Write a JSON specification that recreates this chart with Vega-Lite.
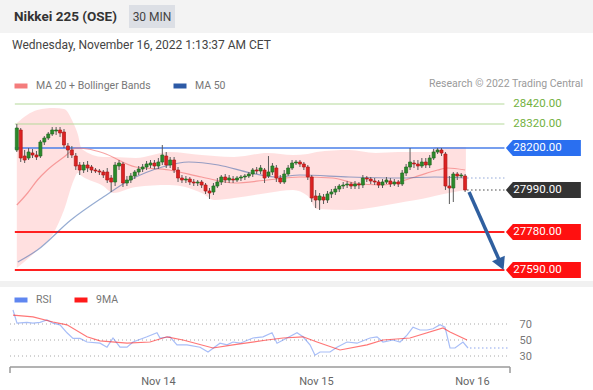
{
  "$schema": "https://vega.github.io/schema/vega-lite/v6.json",
  "padding": 0,
  "background": "#ffffff",
  "spacing": 0,
  "bounds": "flush",
  "resolve": {"scale": {"color": "independent", "x": "independent", "y": "independent"}, "legend": {"color": "independent"}},
  "config": {"font": "Roboto", "view": {"stroke": null}},
  "datasets": {
    "candles": [
      {"i":0,"o":28190,"h":28320,"l":28180,"c":28300},
      {"i":1,"o":28290,"h":28300,"l":28130,"c":28150},
      {"i":2,"o":28160,"h":28190,"l":28125,"c":28140},
      {"i":3,"o":28150,"h":28200,"l":28140,"c":28180},
      {"i":4,"o":28175,"h":28195,"l":28150,"c":28165},
      {"i":5,"o":28165,"h":28185,"l":28140,"c":28155},
      {"i":6,"o":28160,"h":28240,"l":28150,"c":28230},
      {"i":7,"o":28230,"h":28260,"l":28215,"c":28250},
      {"i":8,"o":28250,"h":28280,"l":28240,"c":28270},
      {"i":9,"o":28270,"h":28305,"l":28260,"c":28290},
      {"i":10,"o":28285,"h":28305,"l":28265,"c":28290},
      {"i":11,"o":28290,"h":28305,"l":28255,"c":28275},
      {"i":12,"o":28280,"h":28295,"l":28200,"c":28215},
      {"i":13,"o":28210,"h":28225,"l":28150,"c":28190},
      {"i":14,"o":28190,"h":28210,"l":28150,"c":28165},
      {"i":15,"o":28160,"h":28175,"l":28090,"c":28110},
      {"i":16,"o":28115,"h":28130,"l":28065,"c":28090},
      {"i":17,"o":28090,"h":28130,"l":28075,"c":28115},
      {"i":18,"o":28115,"h":28135,"l":28080,"c":28100},
      {"i":19,"o":28105,"h":28115,"l":28075,"c":28090},
      {"i":20,"o":28090,"h":28100,"l":28075,"c":28085},
      {"i":21,"o":28085,"h":28095,"l":28065,"c":28080},
      {"i":22,"o":28080,"h":28090,"l":28050,"c":28065},
      {"i":23,"o":28080,"h":28100,"l":28025,"c":28040},
      {"i":24,"o":28050,"h":28065,"l":27980,"c":28030},
      {"i":25,"o":28030,"h":28130,"l":28010,"c":28115},
      {"i":26,"o":28110,"h":28140,"l":28090,"c":28125},
      {"i":27,"o":28120,"h":28130,"l":28005,"c":28025},
      {"i":28,"o":28025,"h":28060,"l":28010,"c":28040},
      {"i":29,"o":28040,"h":28075,"l":28025,"c":28060},
      {"i":30,"o":28060,"h":28090,"l":28045,"c":28080},
      {"i":31,"o":28080,"h":28110,"l":28065,"c":28095},
      {"i":32,"o":28095,"h":28120,"l":28080,"c":28105},
      {"i":33,"o":28105,"h":28135,"l":28090,"c":28120},
      {"i":34,"o":28115,"h":28140,"l":28100,"c":28125},
      {"i":35,"o":28125,"h":28140,"l":28095,"c":28110},
      {"i":36,"o":28110,"h":28150,"l":28095,"c":28130},
      {"i":37,"o":28130,"h":28215,"l":28115,"c":28165},
      {"i":38,"o":28160,"h":28180,"l":28100,"c":28115},
      {"i":39,"o":28115,"h":28155,"l":28100,"c":28140},
      {"i":40,"o":28140,"h":28155,"l":28075,"c":28090},
      {"i":41,"o":28090,"h":28105,"l":28030,"c":28050},
      {"i":42,"o":28050,"h":28065,"l":28025,"c":28040},
      {"i":43,"o":28040,"h":28060,"l":28025,"c":28045},
      {"i":44,"o":28045,"h":28055,"l":28015,"c":28030},
      {"i":45,"o":28030,"h":28045,"l":28010,"c":28025},
      {"i":46,"o":28025,"h":28040,"l":28010,"c":28030},
      {"i":47,"o":28030,"h":28040,"l":28000,"c":28015},
      {"i":48,"o":28015,"h":28025,"l":27970,"c":27985},
      {"i":49,"o":27985,"h":28000,"l":27945,"c":27975},
      {"i":50,"o":27980,"h":28025,"l":27965,"c":28010},
      {"i":51,"o":28010,"h":28050,"l":28000,"c":28030},
      {"i":52,"o":28030,"h":28065,"l":28015,"c":28055},
      {"i":53,"o":28055,"h":28070,"l":28025,"c":28040},
      {"i":54,"o":28040,"h":28065,"l":28025,"c":28050},
      {"i":55,"o":28045,"h":28060,"l":28025,"c":28040},
      {"i":56,"o":28040,"h":28060,"l":28030,"c":28050},
      {"i":57,"o":28050,"h":28065,"l":28035,"c":28055},
      {"i":58,"o":28055,"h":28070,"l":28040,"c":28060},
      {"i":59,"o":28060,"h":28080,"l":28050,"c":28070},
      {"i":60,"o":28070,"h":28100,"l":28055,"c":28090},
      {"i":61,"o":28090,"h":28105,"l":28070,"c":28085},
      {"i":62,"o":28085,"h":28115,"l":28070,"c":28100},
      {"i":63,"o":28090,"h":28100,"l":28025,"c":28050},
      {"i":64,"o":28060,"h":28160,"l":28050,"c":28080},
      {"i":65,"o":28080,"h":28125,"l":28065,"c":28110},
      {"i":66,"o":28100,"h":28115,"l":28030,"c":28050},
      {"i":67,"o":28050,"h":28065,"l":28020,"c":28030},
      {"i":68,"o":28030,"h":28090,"l":28020,"c":28070},
      {"i":69,"o":28070,"h":28115,"l":28060,"c":28100},
      {"i":70,"o":28100,"h":28140,"l":28090,"c":28125},
      {"i":71,"o":28125,"h":28140,"l":28115,"c":28130},
      {"i":72,"o":28130,"h":28140,"l":28105,"c":28120},
      {"i":73,"o":28120,"h":28130,"l":28090,"c":28105},
      {"i":74,"o":28105,"h":28115,"l":28040,"c":28055},
      {"i":75,"o":28055,"h":28065,"l":27930,"c":27950},
      {"i":76,"o":27960,"h":27990,"l":27900,"c":27940},
      {"i":77,"o":27940,"h":27975,"l":27890,"c":27960},
      {"i":78,"o":27955,"h":27970,"l":27920,"c":27940},
      {"i":79,"o":27940,"h":27985,"l":27925,"c":27970},
      {"i":80,"o":27970,"h":27995,"l":27950,"c":27980},
      {"i":81,"o":27980,"h":28010,"l":27965,"c":27995},
      {"i":82,"o":27995,"h":28020,"l":27980,"c":28010},
      {"i":83,"o":28010,"h":28030,"l":27995,"c":28015},
      {"i":84,"o":28015,"h":28035,"l":28000,"c":28020},
      {"i":85,"o":28020,"h":28030,"l":27995,"c":28010},
      {"i":86,"o":28010,"h":28035,"l":27995,"c":28020},
      {"i":87,"o":28020,"h":28030,"l":27995,"c":28015},
      {"i":88,"o":28015,"h":28065,"l":28000,"c":28050},
      {"i":89,"o":28050,"h":28060,"l":28030,"c":28045},
      {"i":90,"o":28045,"h":28055,"l":28020,"c":28035},
      {"i":91,"o":28035,"h":28050,"l":28015,"c":28030},
      {"i":92,"o":28030,"h":28040,"l":28000,"c":28015},
      {"i":93,"o":28015,"h":28045,"l":28000,"c":28030},
      {"i":94,"o":28030,"h":28055,"l":28020,"c":28040},
      {"i":95,"o":28035,"h":28050,"l":28005,"c":28020},
      {"i":96,"o":28020,"h":28045,"l":28010,"c":28030},
      {"i":97,"o":28030,"h":28040,"l":28005,"c":28020},
      {"i":98,"o":28020,"h":28090,"l":28010,"c":28075},
      {"i":99,"o":28075,"h":28120,"l":28060,"c":28105},
      {"i":100,"o":28105,"h":28200,"l":28090,"c":28130},
      {"i":101,"o":28125,"h":28140,"l":28100,"c":28120},
      {"i":102,"o":28120,"h":28140,"l":28090,"c":28110},
      {"i":103,"o":28110,"h":28150,"l":28100,"c":28130},
      {"i":104,"o":28130,"h":28150,"l":28100,"c":28115},
      {"i":105,"o":28115,"h":28165,"l":28100,"c":28150},
      {"i":106,"o":28150,"h":28195,"l":28140,"c":28180},
      {"i":107,"o":28180,"h":28200,"l":28170,"c":28190},
      {"i":108,"o":28190,"h":28200,"l":28160,"c":28175},
      {"i":109,"o":28170,"h":28180,"l":27990,"c":28010},
      {"i":110,"o":28010,"h":28060,"l":27920,"c":28000},
      {"i":111,"o":28000,"h":28080,"l":27930,"c":28070},
      {"i":112,"o":28070,"h":28080,"l":28040,"c":28060},
      {"i":113,"o":28060,"h":28075,"l":28050,"c":28065},
      {"i":114,"o":28060,"h":28070,"l":27980,"c":27990}
    ],
    "bands": [
      {"i":0,"up":28325,"lo":27600},{"i":5.25,"up":28390,"lo":27690},{"i":9.5,"up":28400,"lo":27780},
      {"i":12,"up":28395,"lo":27890},{"i":14.5,"up":28320,"lo":28040},{"i":15.5,"up":28270,"lo":28075},
      {"i":16.5,"up":28195,"lo":28060},{"i":22,"up":28155,"lo":28010},{"i":24.5,"up":28155,"lo":27975},
      {"i":30.25,"up":28150,"lo":28005},{"i":38.75,"up":28180,"lo":28015},{"i":47,"up":28165,"lo":27975},
      {"i":50.25,"up":28160,"lo":27940},{"i":55.25,"up":28155,"lo":27950},{"i":63.75,"up":28175,"lo":27975},
      {"i":70.25,"up":28165,"lo":27990},{"i":74,"up":28170,"lo":27960},{"i":76.25,"up":28180,"lo":27895},
      {"i":84.5,"up":28190,"lo":27890},{"i":91.25,"up":28175,"lo":27905},{"i":97,"up":28180,"lo":27925},
      {"i":105.25,"up":28180,"lo":27955},{"i":106.25,"up":28205,"lo":27960},{"i":114.2,"up":28205,"lo":27990}
    ],
    "ma": [
      {"s":"MA 20 + Bollinger Bands","i":0,"p":27915},{"s":"MA 20 + Bollinger Bands","i":2.75,"p":27975},
      {"s":"MA 20 + Bollinger Bands","i":5.25,"p":28040},{"s":"MA 20 + Bollinger Bands","i":7.75,"p":28090},
      {"s":"MA 20 + Bollinger Bands","i":12,"p":28155},{"s":"MA 20 + Bollinger Bands","i":15.25,"p":28200},
      {"s":"MA 20 + Bollinger Bands","i":18,"p":28195},{"s":"MA 20 + Bollinger Bands","i":22,"p":28175},
      {"s":"MA 20 + Bollinger Bands","i":30.25,"p":28105},{"s":"MA 20 + Bollinger Bands","i":38.75,"p":28090},
      {"s":"MA 20 + Bollinger Bands","i":47,"p":28055},{"s":"MA 20 + Bollinger Bands","i":55.25,"p":28025},
      {"s":"MA 20 + Bollinger Bands","i":63.75,"p":28040},{"s":"MA 20 + Bollinger Bands","i":72,"p":28055},
      {"s":"MA 20 + Bollinger Bands","i":80.25,"p":28050},{"s":"MA 20 + Bollinger Bands","i":85.75,"p":28025},
      {"s":"MA 20 + Bollinger Bands","i":92.75,"p":28015},{"s":"MA 20 + Bollinger Bands","i":101.25,"p":28055},
      {"s":"MA 20 + Bollinger Bands","i":107,"p":28090},{"s":"MA 20 + Bollinger Bands","i":109.5,"p":28100},
      {"s":"MA 20 + Bollinger Bands","i":114,"p":28090},
      {"s":"MA 50","i":0.25,"p":27630},{"s":"MA 50","i":5.25,"p":27690},{"s":"MA 50","i":13.75,"p":27840},
      {"s":"MA 50","i":22,"p":27955},{"s":"MA 50","i":28.75,"p":28040},{"s":"MA 50","i":37,"p":28105},
      {"s":"MA 50","i":43.75,"p":28130},{"s":"MA 50","i":51.25,"p":28115},{"s":"MA 50","i":59.5,"p":28075},
      {"s":"MA 50","i":66.25,"p":28055},{"s":"MA 50","i":72,"p":28065},{"s":"MA 50","i":84.5,"p":28055},
      {"s":"MA 50","i":97,"p":28050},{"s":"MA 50","i":106.25,"p":28055},{"s":"MA 50","i":114,"p":28050}
    ],
    "levels": [
      {"level":28420,"label":"28420.00","kind":"res"},
      {"level":28320,"label":"28320.00","kind":"res"},
      {"level":28200,"label":"28200.00","kind":"pivot"},
      {"level":27990,"label":"27990.00","kind":"last"},
      {"level":27780,"label":"27780.00","kind":"sup"},
      {"level":27590,"label":"27590.00","kind":"sup"}
    ],
    "dots": [{"v":27990,"k":"last"},{"v":28050,"k":"ma"}],
    "arrow": [{"i":115,"p":27980},{"i":123,"p":27625}],
    "arrowhead": [{"i":123.05,"p":27622}],
    "rsi": [
      {"s":"RSI","i":0.25,"v":87.5},{"s":"RSI","i":1.25,"v":71},{"s":"RSI","i":3.75,"v":72},{"s":"RSI","i":5.25,"v":71},
      {"s":"RSI","i":7,"v":72},{"s":"RSI","i":8.75,"v":75},{"s":"RSI","i":10.25,"v":71},{"s":"RSI","i":12,"v":69},
      {"s":"RSI","i":13.75,"v":59},{"s":"RSI","i":15.25,"v":52},{"s":"RSI","i":17,"v":52},{"s":"RSI","i":18.75,"v":47.5},
      {"s":"RSI","i":22,"v":46},{"s":"RSI","i":23.75,"v":41},{"s":"RSI","i":25.25,"v":52.5},{"s":"RSI","i":27,"v":41},
      {"s":"RSI","i":28.75,"v":41},{"s":"RSI","i":30.25,"v":47.5},{"s":"RSI","i":33.75,"v":54},{"s":"RSI","i":36.25,"v":59},
      {"s":"RSI","i":37,"v":52.5},{"s":"RSI","i":39.5,"v":54},{"s":"RSI","i":41.25,"v":44},{"s":"RSI","i":43.75,"v":44},
      {"s":"RSI","i":47,"v":41},{"s":"RSI","i":49,"v":35},{"s":"RSI","i":52,"v":46},{"s":"RSI","i":53.75,"v":44},
      {"s":"RSI","i":55.25,"v":47.5},{"s":"RSI","i":57,"v":46},{"s":"RSI","i":60.25,"v":52.5},{"s":"RSI","i":62.75,"v":54},
      {"s":"RSI","i":65,"v":59},{"s":"RSI","i":66.25,"v":46},{"s":"RSI","i":68.75,"v":52.5},{"s":"RSI","i":71.25,"v":59},
      {"s":"RSI","i":72.75,"v":54},{"s":"RSI","i":74.5,"v":44},{"s":"RSI","i":75.75,"v":31},{"s":"RSI","i":77,"v":35},
      {"s":"RSI","i":79.5,"v":35},{"s":"RSI","i":81.25,"v":41},{"s":"RSI","i":83.75,"v":47.5},{"s":"RSI","i":86.25,"v":46},
      {"s":"RSI","i":89.5,"v":52.5},{"s":"RSI","i":91.25,"v":54},{"s":"RSI","i":92.75,"v":47.5},{"s":"RSI","i":95.25,"v":50},
      {"s":"RSI","i":97,"v":47.5},{"s":"RSI","i":98.75,"v":56},{"s":"RSI","i":100.25,"v":66},{"s":"RSI","i":102,"v":62.5},
      {"s":"RSI","i":103.75,"v":62.5},{"s":"RSI","i":105.25,"v":64},{"s":"RSI","i":107,"v":69},{"s":"RSI","i":108.25,"v":66},
      {"s":"RSI","i":109.5,"v":40},{"s":"RSI","i":110.75,"v":40},{"s":"RSI","i":112.75,"v":47.5},{"s":"RSI","i":114,"v":40},
      {"s":"9MA","i":0.25,"v":81},{"s":"9MA","i":5.25,"v":79},{"s":"9MA","i":10.25,"v":72.5},{"s":"9MA","i":13.75,"v":69},
      {"s":"9MA","i":18.75,"v":54},{"s":"9MA","i":22,"v":49},{"s":"9MA","i":28.75,"v":46},{"s":"9MA","i":34.5,"v":47.5},
      {"s":"9MA","i":38.75,"v":54},{"s":"9MA","i":42.75,"v":50},{"s":"9MA","i":50.25,"v":40},{"s":"9MA","i":55.25,"v":44},
      {"s":"9MA","i":63.75,"v":50},{"s":"9MA","i":67.75,"v":52.5},{"s":"9MA","i":72.75,"v":54},{"s":"9MA","i":76.25,"v":47.5},
      {"s":"9MA","i":82,"v":37.5},{"s":"9MA","i":88.75,"v":44},{"s":"9MA","i":92.75,"v":50},{"s":"9MA","i":99.5,"v":52.5},
      {"s":"9MA","i":107.75,"v":65},{"s":"9MA","i":109.5,"v":60},{"s":"9MA","i":113.75,"v":50}
    ],
    "grid": [{"v":30},{"v":50},{"v":70}],
    "baseline": [{"v":16.25}],
    "ends": [{"x":-0.5},{"x":124.5}],
    "rsiext": [{"v":40}]
  },
  "vconcat": [
    {
      "width": 593,
      "height": 33,
      "view": {"fill": "#f3f3f3", "stroke": null},
      "title": {"text": "Wednesday, November 16, 2022 1:13:37 AM CET", "orient": "bottom", "anchor": "start", "frame": "group", "offset": 7, "dx": 12, "fontSize": 12, "fontWeight": "normal", "color": "#444444"},
      "data": {"values": [{"k": "Nikkei 225 (OSE)"}, {"k": "30 MIN"}]},
      "encoding": {"x": {"field": "k", "type": "nominal", "scale": {"type": "point", "domain": ["Nikkei 225 (OSE)", "30 MIN"], "range": [65.5, 152], "padding": 0}, "axis": null}},
      "layer": [
        {"transform": [{"filter": "datum.k == '30 MIN'"}], "mark": {"type": "point", "shape": "M-1,-0.5 L1,-0.5 L1,0.5 L-1,0.5 Z", "size": 2116, "filled": true, "color": "#dcdfe5", "opacity": 1}},
        {"transform": [{"filter": "datum.k == '30 MIN'"}], "mark": {"type": "text", "fontSize": 12, "color": "#444444"}, "encoding": {"text": {"field": "k"}}},
        {"transform": [{"filter": "datum.k != '30 MIN'"}], "mark": {"type": "text", "fontSize": 13.5, "fontWeight": "bold", "color": "#333333"}, "encoding": {"text": {"field": "k"}}}
      ]
    },
    {
      "width": 593,
      "height": 248,
      "view": {"stroke": null},
      "title": {"text": "Research © 2022 Trading Central", "orient": "top", "anchor": "end", "frame": "group", "offset": -56, "dx": -10, "fontSize": 10.5, "fontWeight": "normal", "color": "#9a9a9a"},
      "layer": [
        {
          "data": {"name": "bands"},
          "mark": {"type": "area", "color": "#ff7070", "opacity": 0.22, "interpolate": "monotone"},
          "encoding": {
            "x": {"field": "i", "type": "quantitative", "scale": {"domain": [-3, 145.25], "nice": false, "zero": false}, "axis": null},
            "y": {"field": "up", "type": "quantitative", "scale": {"domain": [27535, 28775], "nice": false, "zero": false}, "axis": null},
            "y2": {"field": "lo"}
          }
        },
        {
          "data": {"name": "levels"},
          "transform": [{"filter": "datum.kind != 'last'"}],
          "mark": {"type": "rule"},
          "encoding": {
            "x": {"datum": -0.5, "type": "quantitative", "scale": {"domain": [-3, 145.25], "nice": false, "zero": false}, "axis": null},
            "x2": {"datum": 124},
            "y": {"field": "level", "type": "quantitative", "scale": {"domain": [27535, 28775], "nice": false, "zero": false}, "axis": null},
            "color": {"condition": [{"test": "datum.kind == 'pivot'", "value": "#4a7fe8"}, {"test": "datum.kind == 'sup'", "value": "#ff2020"}], "value": "#b5d99a"},
            "strokeWidth": {"condition": [{"test": "datum.kind == 'pivot'", "value": 1.5}, {"test": "datum.kind == 'sup'", "value": 2.2}], "value": 1}
          }
        },
        {
          "data": {"name": "ma"},
          "mark": {"type": "line", "strokeWidth": 1.2, "interpolate": "monotone"},
          "encoding": {
            "x": {"field": "i", "type": "quantitative", "scale": {"domain": [-3, 145.25], "nice": false, "zero": false}, "axis": null},
            "y": {"field": "p", "type": "quantitative", "scale": {"domain": [27535, 28775], "nice": false, "zero": false}, "axis": null},
            "color": {"field": "s", "type": "nominal", "scale": {"domain": ["MA 20 + Bollinger Bands", "MA 50"], "range": ["#f47c7c", "#2d5aa6"]},
              "legend": {"orient": "none", "legendX": 12, "legendY": 44, "direction": "horizontal", "title": null, "symbolType": "stroke", "symbolStrokeWidth": 5, "symbolSize": 169, "symbolOpacity": 1, "labelFontSize": 10.5, "labelColor": "#777777", "columnPadding": 12, "labelOffset": 6}},
            "strokeOpacity": {"condition": {"test": "datum.s == 'MA 50'", "value": 0.5}, "value": 0.7}
          }
        },
        {
          "data": {"name": "candles"},
          "mark": {"type": "rule", "color": "#5a5a5a", "strokeWidth": 1},
          "encoding": {
            "x": {"field": "i", "type": "quantitative", "scale": {"domain": [-3, 145.25], "nice": false, "zero": false}, "axis": null},
            "y": {"field": "l", "type": "quantitative", "scale": {"domain": [27535, 28775], "nice": false, "zero": false}, "axis": null},
            "y2": {"field": "h"}
          }
        },
        {
          "data": {"name": "candles"},
          "mark": {"type": "bar", "size": 3, "strokeWidth": 0.7},
          "encoding": {
            "x": {"field": "i", "type": "quantitative", "scale": {"domain": [-3, 145.25], "nice": false, "zero": false}, "axis": null},
            "y": {"field": "o", "type": "quantitative", "scale": {"domain": [27535, 28775], "nice": false, "zero": false}, "axis": null},
            "y2": {"field": "c"},
            "color": {"condition": {"test": "datum.c >= datum.o", "value": "#2b8a2b"}, "value": "#dd2222"},
            "stroke": {"condition": {"test": "datum.c >= datum.o", "value": "#1f6a1f"}, "value": "#b01818"}
          }
        },
        {
          "data": {"name": "dots"},
          "mark": {"type": "rule", "strokeDash": [1.5, 2.5], "strokeWidth": 1},
          "encoding": {
            "x": {"datum": 114.5, "type": "quantitative", "scale": {"domain": [-3, 145.25], "nice": false, "zero": false}, "axis": null},
            "x2": {"datum": 124},
            "y": {"field": "v", "type": "quantitative", "scale": {"domain": [27535, 28775], "nice": false, "zero": false}, "axis": null},
            "color": {"condition": {"test": "datum.k == 'last'", "value": "#444444"}, "value": "#8fa6d6"}
          }
        },
        {
          "data": {"name": "levels"},
          "transform": [{"filter": "datum.kind != 'res'"}],
          "mark": {"type": "point", "shape": "M-1,0 L-0.813,-0.213 L1,-0.213 L1,0.213 L-0.813,0.213 Z", "size": 5625, "filled": true, "opacity": 1},
          "encoding": {
            "x": {"datum": 133.9, "type": "quantitative", "scale": {"domain": [-3, 145.25], "nice": false, "zero": false}, "axis": null},
            "y": {"field": "level", "type": "quantitative", "scale": {"domain": [27535, 28775], "nice": false, "zero": false}, "axis": null},
            "color": {"condition": [{"test": "datum.kind == 'pivot'", "value": "#2a6ff0"}, {"test": "datum.kind == 'last'", "value": "#333333"}], "value": "#ff1010"}
          }
        },
        {
          "data": {"name": "levels"},
          "mark": {"type": "text", "fontSize": 11.5, "align": "center", "baseline": "middle"},
          "encoding": {
            "x": {"datum": 132.4, "type": "quantitative", "scale": {"domain": [-3, 145.25], "nice": false, "zero": false}, "axis": null},
            "y": {"field": "level", "type": "quantitative", "scale": {"domain": [27535, 28775], "nice": false, "zero": false}, "axis": null},
            "text": {"field": "label"},
            "color": {"condition": {"test": "datum.kind == 'res'", "value": "#72b13e"}, "value": "#ffffff"}
          }
        },
        {
          "data": {"name": "arrow"},
          "mark": {"type": "line", "color": "#2f5f9f", "strokeWidth": 3.5},
          "encoding": {
            "x": {"field": "i", "type": "quantitative", "scale": {"domain": [-3, 145.25], "nice": false, "zero": false}, "axis": null},
            "y": {"field": "p", "type": "quantitative", "scale": {"domain": [27535, 28775], "nice": false, "zero": false}, "axis": null}
          }
        },
        {
          "data": {"name": "arrowhead"},
          "mark": {"type": "point", "shape": "M-1,-0.8 L1,-0.8 L0,1 Z", "size": 196, "filled": true, "color": "#2f5f9f", "opacity": 1, "angle": 336},
          "encoding": {
            "x": {"field": "i", "type": "quantitative", "scale": {"domain": [-3, 145.25], "nice": false, "zero": false}, "axis": null},
            "y": {"field": "p", "type": "quantitative", "scale": {"domain": [27535, 28775], "nice": false, "zero": false}, "axis": null}
          }
        }
      ]
    },
    {
      "width": 593,
      "height": 6,
      "view": {"fill": "#f1f1f1", "stroke": null},
      "data": {"values": []},
      "mark": {"type": "point"}
    },
    {
      "width": 593,
      "height": 103,
      "view": {"stroke": null},
      "layer": [
        {
          "data": {"name": "grid"},
          "mark": {"type": "rule", "strokeDash": [1, 3], "color": "#a8a8a8", "strokeWidth": 1},
          "encoding": {
            "x": {"datum": -0.5, "type": "quantitative", "scale": {"domain": [-3, 145.25], "nice": false, "zero": false},
              "axis": {"orient": "bottom", "offset": -23, "values": [36.5, 76, 115], "labelExpr": "datum.value < 50 ? 'Nov 14' : datum.value < 100 ? 'Nov 15' : 'Nov 16'", "domain": false, "ticks": false, "grid": false, "labelPadding": 8, "labelFontSize": 11, "labelColor": "#666666", "title": null}},
            "x2": {"datum": 124.5},
            "y": {"field": "v", "type": "quantitative", "scale": {"domain": [-12.5, 116.25], "nice": false, "zero": false},
              "axis": {"orient": "right", "offset": -83, "values": [30, 50, 70], "domain": false, "ticks": false, "grid": false, "labelPadding": 9, "labelFontSize": 11, "labelColor": "#777777", "title": null}}
          }
        },
        {
          "data": {"name": "baseline"},
          "mark": {"type": "rule", "color": "#9a9a9a", "strokeWidth": 1.5},
          "encoding": {
            "x": {"datum": -0.5, "type": "quantitative", "scale": {"domain": [-3, 145.25], "nice": false, "zero": false}},
            "x2": {"datum": 124.5},
            "y": {"field": "v", "type": "quantitative", "scale": {"domain": [-12.5, 116.25], "nice": false, "zero": false}}
          }
        },
        {
          "data": {"name": "ends"},
          "mark": {"type": "rule", "color": "#9a9a9a", "strokeWidth": 1.5},
          "encoding": {
            "x": {"field": "x", "type": "quantitative", "scale": {"domain": [-3, 145.25], "nice": false, "zero": false}},
            "y": {"datum": 16.25, "type": "quantitative", "scale": {"domain": [-12.5, 116.25], "nice": false, "zero": false}},
            "y2": {"datum": 8.75}
          }
        },
        {
          "data": {"name": "rsiext"},
          "mark": {"type": "rule", "strokeDash": [1.5, 2.5], "color": "#8ea6ee", "strokeWidth": 1.2},
          "encoding": {
            "x": {"datum": 114.5, "type": "quantitative", "scale": {"domain": [-3, 145.25], "nice": false, "zero": false}},
            "x2": {"datum": 124.5},
            "y": {"field": "v", "type": "quantitative", "scale": {"domain": [-12.5, 116.25], "nice": false, "zero": false}}
          }
        },
        {
          "data": {"name": "rsi"},
          "mark": {"type": "line", "strokeWidth": 1.2},
          "encoding": {
            "x": {"field": "i", "type": "quantitative", "scale": {"domain": [-3, 145.25], "nice": false, "zero": false}},
            "y": {"field": "v", "type": "quantitative", "scale": {"domain": [-12.5, 116.25], "nice": false, "zero": false}},
            "color": {"field": "s", "type": "nominal", "scale": {"domain": ["RSI", "9MA"], "range": ["#5f86f0", "#ff1a1a"]},
              "legend": {"orient": "none", "legendX": 12, "legendY": 4, "direction": "horizontal", "title": null, "symbolType": "stroke", "symbolStrokeWidth": 5, "symbolSize": 169, "symbolOpacity": 1, "labelFontSize": 10.5, "labelColor": "#777777", "columnPadding": 12, "labelOffset": 6}},
            "strokeOpacity": {"condition": {"test": "datum.s == 'RSI'", "value": 0.55}, "value": 0.6}
          }
        }
      ]
    }
  ]
}
